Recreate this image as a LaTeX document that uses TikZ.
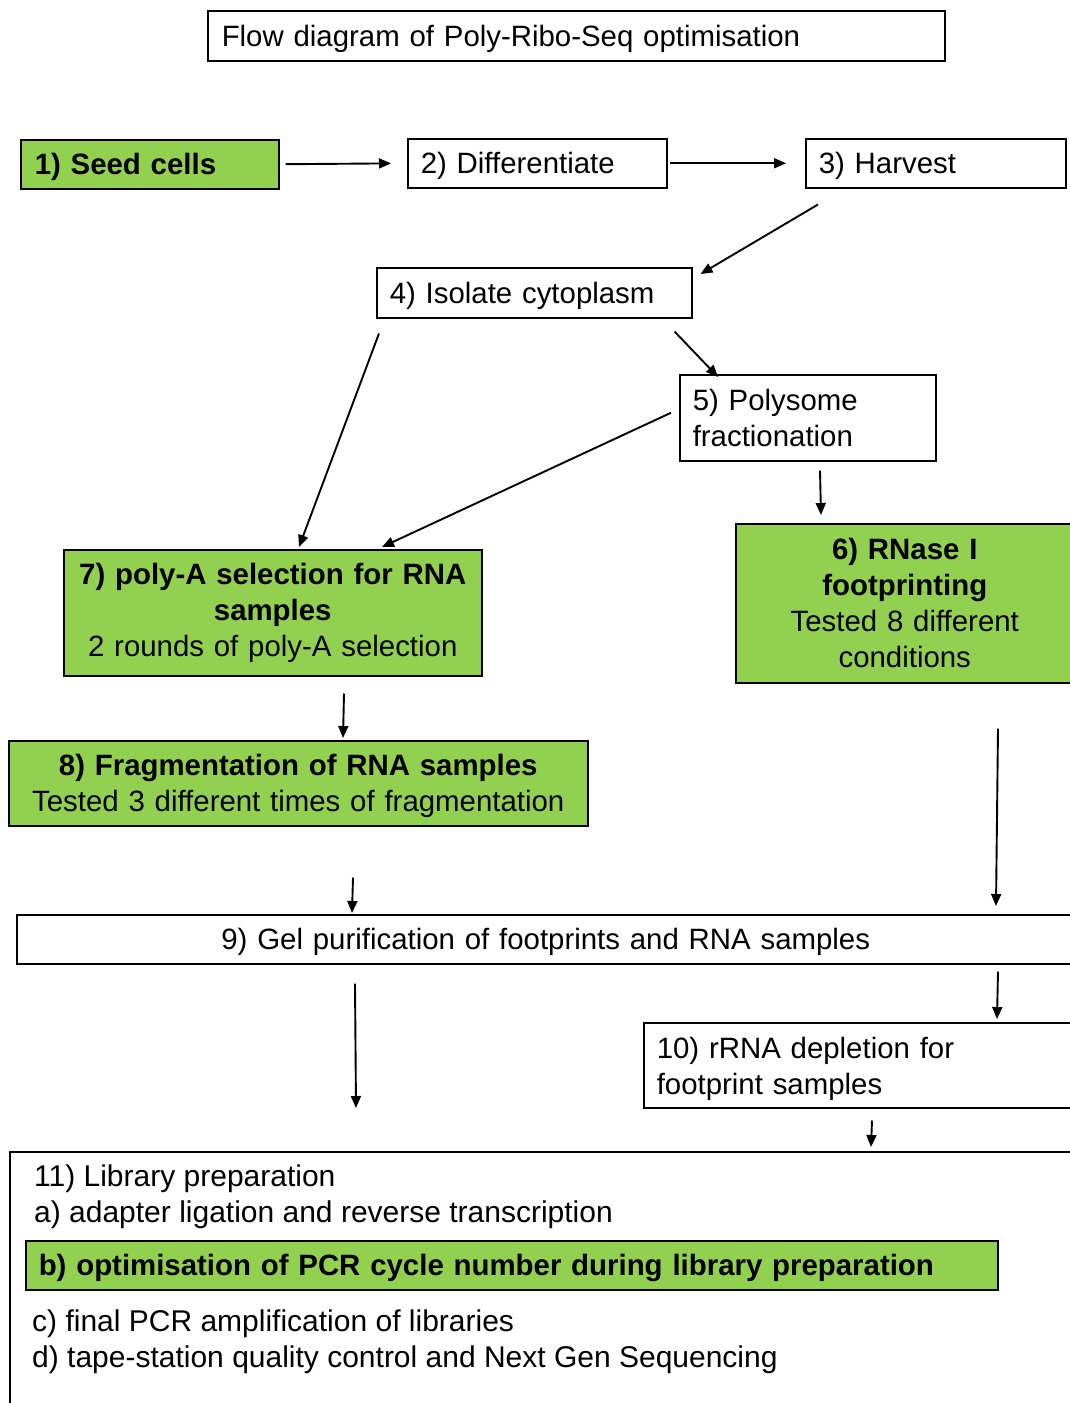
\documentclass[tikz,border=0pt]{standalone}
\usepackage{fontspec}
\setmainfont{Liberation Sans}
\usetikzlibrary{calc}
\usetikzlibrary{arrows.meta}
\definecolor{keyStepColor}{RGB}{146,208,80}
\tikzset{
	stepBox/.style = {
		draw = black, line width = 1.5pt, anchor = north west,
		inner xsep = 13pt, inner ysep = 0pt, align = left
	},
	keyStepBox/.style = {
		stepBox, fill = keyStepColor, align = center
	},
	singleLine/.style = {
		text depth = 0pt
	},
	libText/.style = {
		anchor = north west, inner sep = 0pt, align = left,
		font = \fontsize{30pt}{36pt}\selectfont
	},
	flowLine/.style = {
		-{Triangle[length=12pt, width=10pt]}, line width = 1.9pt
	}
}

\begin{document}
\begin{tikzpicture}[x=1pt, y=-1pt, font=\fontsize{29.4pt}{36pt}\selectfont]
	\clip (0,0) rectangle (1070,1403);

	\node [stepBox, singleLine, text width = 709pt, minimum height = 50pt, inner xsep = 14pt] (title) at (207,10) {Flow diagram of Poly-Ribo-Seq optimisation};

	% first row
	\node [keyStepBox, singleLine, align = left, inner xsep = 14pt, text width = 230pt, minimum height = 49pt] (seed) at (20,139) {\bfseries 1) Seed cells};
	\node [stepBox, singleLine, text width = 233pt, minimum height = 49pt] (diff) at (407,138) {2) Differentiate};
	\node [stepBox, singleLine, text width = 234pt, minimum height = 49pt] (harv) at (805,138) {3) Harvest};

	\node [stepBox, singleLine, text width = 289pt, minimum height = 50pt] (iso) at (376,267) {4) Isolate cytoplasm};
	\node [stepBox, text width = 230pt, minimum height = 86pt] (poly) at (679,374) {5) Polysome\\fractionation};

	\node [keyStepBox, text width = 312pt, minimum height = 159pt] (rnase) at (735,523) {\textbf{6) RNase I}\\\textbf{footprinting}\\Tested 8 different\\conditions};
	\node [keyStepBox, inner xsep = 8pt, text width = 402pt, minimum height = 126pt] (polya) at (63,549) {\textbf{7) poly-A selection for RNA}\\\textbf{samples}\\2 rounds of poly-A selection};
	\node [keyStepBox, inner xsep = 8pt, text width = 563pt, minimum height = 85pt, text depth = 36pt] (frag) at (8,740) {\textbf{8) Fragmentation of RNA samples}\\Tested 3 different times of fragmentation};

	\node [stepBox, singleLine, align = center, text width = 1032pt, minimum height = 49pt] (gel) at (16,914) {9) Gel purification of footprints and RNA samples};
	\node [stepBox, text width = 414pt, minimum height = 85pt, text depth = 35pt] (rrna) at (643,1022) {10) rRNA depletion for\\footprint samples};

	% library preparation block
	\node [stepBox, minimum width = 1080pt, minimum height = 270pt] (lib) at (9,1151) {};
	\node [libText] (libhead) at ($(lib.north west)+(25,14)$) {11) Library preparation\\a) adapter ligation and reverse transcription};
	\node [keyStepBox, singleLine, align = left, text width = 946pt, minimum height = 49pt] (libpcr) at (25,1240) {\bfseries b) optimisation of PCR cycle number during library preparation};
	\node [libText] (libtail) at ($(lib.north west)+(23,159)$) {c) final PCR amplification of libraries\\d) tape-station quality control and Next Gen Sequencing};

	\draw [flowLine, shorten <= 6pt, shorten >= 16pt] (seed.east) -- (diff.west);
	\draw [flowLine, shorten <= 2pt, shorten >= 19pt] (diff.east) -- (harv.west);
	\draw [flowLine] ($(harv.south west)+(13,16)$) -- ($(iso.north east)+(8,7)$);
	\draw [flowLine] ($(iso.south east)+(-18,13)$) -- ($(poly.north west)+(39,3)$);
	\draw [flowLine] ($(iso.south west)+(3,15)$) -- ($(polya.north west)+(236,-2)$);
	\draw [flowLine] ($(poly.west)+(-8,-5)$) -- ($(polya.north west)+(319,-2)$);
	\draw [flowLine] ($(poly.south west)+(141,9)$) -- ($(rnase.north west)+(86,-8)$);
	\draw [flowLine] ($(polya.south west)+(281,17)$) -- ($(frag.north west)+(335,-2)$);
	\draw [flowLine] ($(frag.south west)+(345,51)$) -- ($(gel.north west)+(336,-1)$);
	\draw [flowLine] ($(rnase.south west)+(263,45)$) -- ($(gel.north west)+(980,-8)$);
	\draw [flowLine] ($(gel.south west)+(982,7)$) -- ($(rrna.north west)+(354,-3)$);
	\draw [flowLine] ($(gel.south west)+(339,19)$) -- ($(lib.north west)+(347,-43)$);
	\draw [flowLine] ($(rrna.south west)+(229,12)$) -- ($(lib.north west)+(862,-4)$);
\end{tikzpicture}
\end{document}
